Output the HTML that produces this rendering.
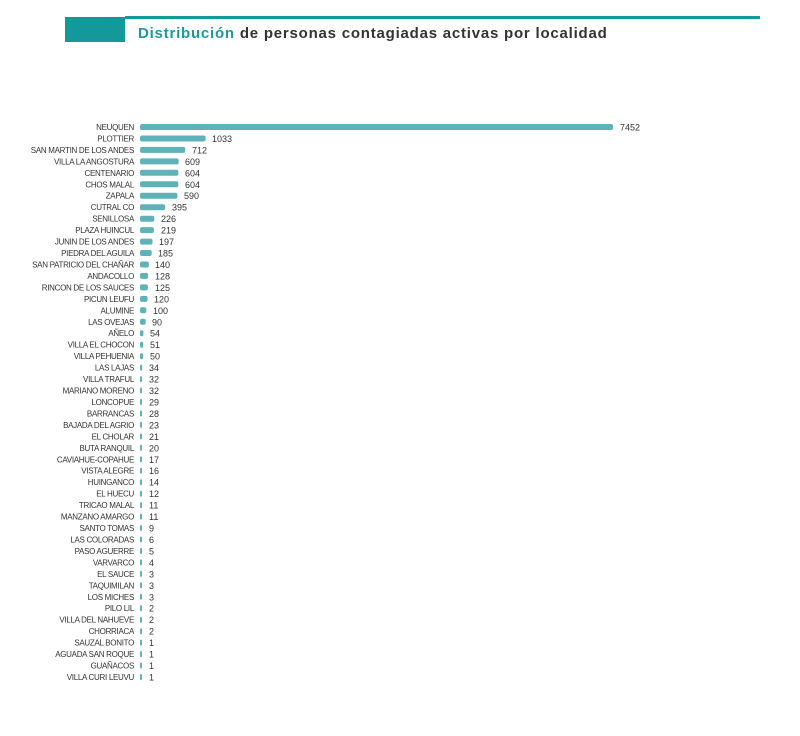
<!DOCTYPE html>
<html><head><meta charset="utf-8"><style>
html,body{margin:0;padding:0;background:#fff;}
svg{display:block;font-family:"Liberation Sans",sans-serif;}
.l{font-size:8px;fill:#333;text-anchor:end;letter-spacing:-0.3px}
.v{font-size:9px;fill:#333}
rect.b{fill:#5fb3b8}
</style></head><body>
<svg width="800" height="736" viewBox="0 0 800 736">
<rect x="65" y="17" width="60" height="25" fill="#13999a"/>
<rect x="125" y="16" width="635" height="3" fill="#13999a"/>
<text x="138" y="38" font-size="15" font-weight="bold" fill="#333" letter-spacing="0.78"><tspan fill="#1a9a9a">Distribución</tspan> de personas contagiadas activas por localidad</text>
<g>
<text class="l" x="134" y="130">NEUQUEN</text><rect class="b" x="140" y="124" width="473" height="6" rx="2"/><text class="v" x="620" y="130.5">7452</text>
<text class="l" x="134" y="141.5">PLOTTIER</text><rect class="b" x="140" y="135.5" width="65.6" height="6" rx="2"/><text class="v" x="212" y="142">1033</text>
<text class="l" x="134" y="152.9">SAN MARTIN DE LOS ANDES</text><rect class="b" x="140" y="146.9" width="45.2" height="6" rx="2"/><text class="v" x="192" y="153.4">712</text>
<text class="l" x="134" y="164.4">VILLA LA ANGOSTURA</text><rect class="b" x="140" y="158.4" width="38.7" height="6" rx="2"/><text class="v" x="185" y="164.9">609</text>
<text class="l" x="134" y="175.8">CENTENARIO</text><rect class="b" x="140" y="169.8" width="38.3" height="6" rx="2"/><text class="v" x="185" y="176.3">604</text>
<text class="l" x="134" y="187.3">CHOS MALAL</text><rect class="b" x="140" y="181.3" width="38.3" height="6" rx="2"/><text class="v" x="185" y="187.8">604</text>
<text class="l" x="134" y="198.7">ZAPALA</text><rect class="b" x="140" y="192.7" width="37.4" height="6" rx="2"/><text class="v" x="184" y="199.2">590</text>
<text class="l" x="134" y="210.2">CUTRAL CO</text><rect class="b" x="140" y="204.2" width="25.1" height="6" rx="2"/><text class="v" x="172" y="210.7">395</text>
<text class="l" x="134" y="221.7">SENILLOSA</text><rect class="b" x="140" y="215.7" width="14.3" height="6" rx="2"/><text class="v" x="161" y="222.2">226</text>
<text class="l" x="134" y="233.1">PLAZA HUINCUL</text><rect class="b" x="140" y="227.1" width="13.9" height="6" rx="2"/><text class="v" x="161" y="233.6">219</text>
<text class="l" x="134" y="244.6">JUNIN DE LOS ANDES</text><rect class="b" x="140" y="238.6" width="12.5" height="6" rx="2"/><text class="v" x="159" y="245.1">197</text>
<text class="l" x="134" y="256">PIEDRA DEL AGUILA</text><rect class="b" x="140" y="250" width="11.7" height="6" rx="2"/><text class="v" x="158" y="256.5">185</text>
<text class="l" x="134" y="267.5">SAN PATRICIO DEL CHAÑAR</text><rect class="b" x="140" y="261.5" width="8.9" height="6" rx="2"/><text class="v" x="155" y="268">140</text>
<text class="l" x="134" y="278.9">ANDACOLLO</text><rect class="b" x="140" y="272.9" width="8.1" height="6" rx="2"/><text class="v" x="155" y="279.4">128</text>
<text class="l" x="134" y="290.4">RINCON DE LOS SAUCES</text><rect class="b" x="140" y="284.4" width="7.9" height="6" rx="2"/><text class="v" x="155" y="290.9">125</text>
<text class="l" x="134" y="301.9">PICUN LEUFU</text><rect class="b" x="140" y="295.9" width="7.6" height="6" rx="2"/><text class="v" x="154" y="302.4">120</text>
<text class="l" x="134" y="313.3">ALUMINE</text><rect class="b" x="140" y="307.3" width="6.3" height="6" rx="2"/><text class="v" x="153" y="313.8">100</text>
<text class="l" x="134" y="324.8">LAS OVEJAS</text><rect class="b" x="140" y="318.8" width="5.7" height="6" rx="2"/><text class="v" x="152" y="325.3">90</text>
<text class="l" x="134" y="336.2">AÑELO</text><rect class="b" x="140" y="330.2" width="3.4" height="6" rx="1.5"/><text class="v" x="150" y="336.7">54</text>
<text class="l" x="134" y="347.7">VILLA EL CHOCON</text><rect class="b" x="140" y="341.7" width="3.2" height="6" rx="1.5"/><text class="v" x="150" y="348.2">51</text>
<text class="l" x="134" y="359.2">VILLA PEHUENIA</text><rect class="b" x="140" y="353.2" width="3.2" height="6" rx="1.5"/><text class="v" x="150" y="359.7">50</text>
<text class="l" x="134" y="370.6">LAS LAJAS</text><rect class="b" x="140" y="364.6" width="2.2" height="6" rx="1"/><text class="v" x="149" y="371.1">34</text>
<text class="l" x="134" y="382.1">VILLA TRAFUL</text><rect class="b" x="140" y="376.1" width="2" height="6" rx="1"/><text class="v" x="149" y="382.6">32</text>
<text class="l" x="134" y="393.5">MARIANO MORENO</text><rect class="b" x="140" y="387.5" width="2" height="6" rx="1"/><text class="v" x="149" y="394">32</text>
<text class="l" x="134" y="405">LONCOPUE</text><rect class="b" x="140" y="399" width="2" height="6" rx="1"/><text class="v" x="149" y="405.5">29</text>
<text class="l" x="134" y="416.5">BARRANCAS</text><rect class="b" x="140" y="410.5" width="2" height="6" rx="1"/><text class="v" x="149" y="417">28</text>
<text class="l" x="134" y="427.9">BAJADA DEL AGRIO</text><rect class="b" x="140" y="421.9" width="2" height="6" rx="1"/><text class="v" x="149" y="428.4">23</text>
<text class="l" x="134" y="439.4">EL CHOLAR</text><rect class="b" x="140" y="433.4" width="2" height="6" rx="1"/><text class="v" x="149" y="439.9">21</text>
<text class="l" x="134" y="450.8">BUTA RANQUIL</text><rect class="b" x="140" y="444.8" width="2" height="6" rx="1"/><text class="v" x="149" y="451.3">20</text>
<text class="l" x="134" y="462.3">CAVIAHUE-COPAHUE</text><rect class="b" x="140" y="456.3" width="2" height="6" rx="1"/><text class="v" x="149" y="462.8">17</text>
<text class="l" x="134" y="473.7">VISTA ALEGRE</text><rect class="b" x="140" y="467.7" width="2" height="6" rx="1"/><text class="v" x="149" y="474.2">16</text>
<text class="l" x="134" y="485.2">HUINGANCO</text><rect class="b" x="140" y="479.2" width="2" height="6" rx="1"/><text class="v" x="149" y="485.7">14</text>
<text class="l" x="134" y="496.7">EL HUECU</text><rect class="b" x="140" y="490.7" width="2" height="6" rx="1"/><text class="v" x="149" y="497.2">12</text>
<text class="l" x="134" y="508.1">TRICAO MALAL</text><rect class="b" x="140" y="502.1" width="2" height="6" rx="1"/><text class="v" x="149" y="508.6">11</text>
<text class="l" x="134" y="519.6">MANZANO AMARGO</text><rect class="b" x="140" y="513.6" width="2" height="6" rx="1"/><text class="v" x="149" y="520.1">11</text>
<text class="l" x="134" y="531">SANTO TOMAS</text><rect class="b" x="140" y="525" width="2" height="6" rx="1"/><text class="v" x="149" y="531.5">9</text>
<text class="l" x="134" y="542.5">LAS COLORADAS</text><rect class="b" x="140" y="536.5" width="2" height="6" rx="1"/><text class="v" x="149" y="543">6</text>
<text class="l" x="134" y="554">PASO AGUERRE</text><rect class="b" x="140" y="548" width="2" height="6" rx="1"/><text class="v" x="149" y="554.5">5</text>
<text class="l" x="134" y="565.4">VARVARCO</text><rect class="b" x="140" y="559.4" width="2" height="6" rx="1"/><text class="v" x="149" y="565.9">4</text>
<text class="l" x="134" y="576.9">EL SAUCE</text><rect class="b" x="140" y="570.9" width="2" height="6" rx="1"/><text class="v" x="149" y="577.4">3</text>
<text class="l" x="134" y="588.3">TAQUIMILAN</text><rect class="b" x="140" y="582.3" width="2" height="6" rx="1"/><text class="v" x="149" y="588.8">3</text>
<text class="l" x="134" y="599.8">LOS MICHES</text><rect class="b" x="140" y="593.8" width="2" height="6" rx="1"/><text class="v" x="149" y="600.3">3</text>
<text class="l" x="134" y="611.2">PILO LIL</text><rect class="b" x="140" y="605.2" width="2" height="6" rx="1"/><text class="v" x="149" y="611.7">2</text>
<text class="l" x="134" y="622.7">VILLA DEL NAHUEVE</text><rect class="b" x="140" y="616.7" width="2" height="6" rx="1"/><text class="v" x="149" y="623.2">2</text>
<text class="l" x="134" y="634.2">CHORRIACA</text><rect class="b" x="140" y="628.2" width="2" height="6" rx="1"/><text class="v" x="149" y="634.7">2</text>
<text class="l" x="134" y="645.6">SAUZAL BONITO</text><rect class="b" x="140" y="639.6" width="2" height="6" rx="1"/><text class="v" x="149" y="646.1">1</text>
<text class="l" x="134" y="657.1">AGUADA SAN ROQUE</text><rect class="b" x="140" y="651.1" width="2" height="6" rx="1"/><text class="v" x="149" y="657.6">1</text>
<text class="l" x="134" y="668.5">GUAÑACOS</text><rect class="b" x="140" y="662.5" width="2" height="6" rx="1"/><text class="v" x="149" y="669">1</text>
<text class="l" x="134" y="680">VILLA CURI LEUVU</text><rect class="b" x="140" y="674" width="2" height="6" rx="1"/><text class="v" x="149" y="680.5">1</text>
</g>
</svg>
</body></html>
